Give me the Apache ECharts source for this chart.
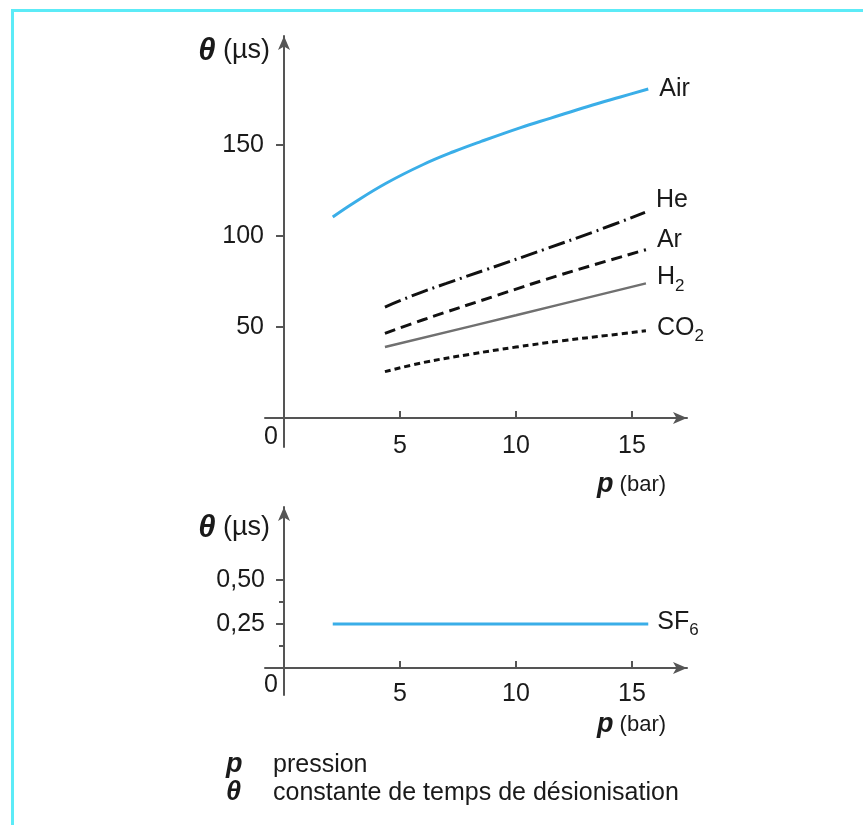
<!DOCTYPE html>
<html><head><meta charset="utf-8">
<script src="https://cdn.jsdelivr.net/npm/echarts@6/dist/echarts.min.js"></script>
<style>
html,body{margin:0;padding:0;background:#fff;}
#c{width:863px;height:825px;}
#frame{position:absolute;left:11px;top:9px;width:900px;height:900px;border-left:3px solid #5cebf7;border-top:3px solid #5cebf7;pointer-events:none;}
</style>
</head><body><div id="c"></div><div id="frame"></div>
<script>
// ---- data ----
const xTicks = [0, 5, 10, 15];
const yTicksTop = [50, 100, 150];
const yTicksBottom = [0.25, 0.5];
const yMinorBottom = [0.125, 0.375];

const airData = [[2.1,110.5],[3,118.2],[4.4,129],[6,139.3],[7.3,146.3],[8.5,152],[10.2,159.6],[11.5,164.8],[13.1,171.2],[14.5,176.4],[15.7,180.8]];
const heData  = [[4.35,61],[5,64.5],[6,69.5],[7,74],[8.7,81.5],[11.3,93],[13.5,103],[15.56,113]];
const arData  = [[4.35,46.5],[6,54],[9.2,67.5],[12,79],[15.6,92.5]];
const h2Data  = [[4.35,39],[10,56.5],[15.6,74]];
const co2Data = [[4.35,25.5],[6,30.5],[8,35],[10,39],[12,42.5],[14,45.5],[15.6,48]];
const sf6Data = [[2.1,0.25],[15.7,0.25]];

const seriesNames = ['Air','He','Ar','H2','CO2'];
const seriesLabels = ['Air','He','Ar','H{sub|2}','CO{sub|2}'];
const sf6Label = 'SF{sub|6}';

const FONT = "'Liberation Sans', Arial, Helvetica, sans-serif";
const TXT = '#1a1a1a';
const AX = '#555';

const labelDy = [0, -12, -10, -6, -3];

function lastPt(d){ return d[d.length-1]; }

const topSets = [airData, heData, arData, h2Data, co2Data];
const labelRich = { sub: { fontSize: 17, padding: [17,0,0,0], color: TXT, fontFamily: FONT } };

function axisCommon(){
  return {
    axisLine: { onZero: true, lineStyle: { color: AX, width: 2 }, symbol: ['none','arrow'], symbolSize: [9,14] },
    splitLine: { show: false }
  };
}

const xLabelCfg = {
  customValues: xTicks,
  margin: -22,
  color: TXT, fontSize: 25, fontFamily: FONT,
  formatter: v => v === 0 ? '{z|0}' : '{n|' + v + '}',
  rich: {
    z: { fontSize: 25, fontFamily: FONT, color: TXT, padding: [0, 26, 0, 0] },
    n: { fontSize: 25, fontFamily: FONT, color: TXT, padding: [9, 0, 0, 0] }
  }
};

const xName = {
  name: '{p|p} (bar)',
  nameLocation: 'end',
  nameGap: -90,
  nameTextStyle: {
    align: 'left', verticalAlign: 'top', color: TXT, fontSize: 22, fontFamily: FONT,
    rich: { p: { fontSize: 27, fontStyle: 'italic', fontWeight: 'bold', color: TXT, fontFamily: FONT } }
  }
};

const yName = {
  name: '{t|θ} (µs)',
  nameLocation: 'end',
  nameTextStyle: {
    align: 'right', verticalAlign: 'middle', color: TXT, fontSize: 27, fontFamily: FONT,
    padding: [0, 14, 0, 0],
    rich: { t: { fontSize: 31, fontStyle: 'italic', fontWeight: 'bold', color: TXT, fontFamily: FONT } }
  }
};

const option = {
  animation: false,
  backgroundColor: '#fff',
  title: {
    left: 221, top: 746,
    text: '{s|p}{t|pression}\n{s|θ}{t|constante de temps de désionisation}',
    textStyle: {
      fontWeight: 'normal',
      rich: {
        s: { fontSize: 27, fontStyle: 'italic', fontWeight: 'bold', width: 47, lineHeight: 28, color: TXT, fontFamily: FONT },
        t: { fontSize: 25, fontWeight: 'normal', lineHeight: 28, color: TXT, fontFamily: FONT }
      }
    }
  },
  grid: [
    { left: 265, right: 176, top: 36, bottom: 378 },
    { left: 265, right: 176, top: 507, bottom: 130 }
  ],
  xAxis: [
    Object.assign(axisCommon(), xName, {
      type: 'value', gridIndex: 0, min: -0.82, max: 17.37,
      nameTextStyle: Object.assign({}, xName.nameTextStyle, { padding: [53, 0, 0, 0] }),
      axisTick: { customValues: xTicks.filter(v => v > 0), inside: true, length: 7, lineStyle: { color: AX, width: 2 } },
      axisLabel: xLabelCfg
    }),
    Object.assign(axisCommon(), xName, {
      type: 'value', gridIndex: 1, min: -0.82, max: 17.37,
      nameTextStyle: Object.assign({}, xName.nameTextStyle, { padding: [43, 0, 0, 0] }),
      axisTick: { customValues: xTicks.filter(v => v > 0), inside: true, length: 7, lineStyle: { color: AX, width: 2 } },
      axisLabel: xLabelCfg
    })
  ],
  yAxis: [
    Object.assign(axisCommon(), yName, {
      type: 'value', gridIndex: 0, min: -15.9, max: 209.9, nameGap: -15,
      axisTick: { customValues: yTicksTop, length: 8, lineStyle: { color: AX, width: 2 } },
      axisLabel: { customValues: yTicksTop, margin: 1, color: TXT, fontSize: 25, fontFamily: FONT }
    }),
    Object.assign(axisCommon(), yName, {
      type: 'value', gridIndex: 1, min: -0.153, max: 0.915, nameGap: -21,
      axisTick: { customValues: yTicksBottom, length: 8, lineStyle: { color: AX, width: 2 } },
      axisLabel: { customValues: yTicksBottom, margin: 0, color: TXT, fontSize: 25, fontFamily: FONT,
        formatter: v => v.toFixed(2).replace('.', ',') }
    }),
    {
      type: 'value', gridIndex: 1, min: -0.153, max: 0.915, position: 'left', offset: -19,
      axisLine: { show: false, onZero: false },
      splitLine: { show: false },
      axisLabel: { show: false },
      axisTick: { customValues: yMinorBottom, length: 5, lineStyle: { color: AX, width: 2 } }
    }
  ],
  series: [
    { name: 'Air', type: 'line', xAxisIndex: 0, yAxisIndex: 0, data: airData, smooth: 0.4, showSymbol: false,
      lineStyle: { color: '#3aaee8', width: 3 } },
    { name: 'He', type: 'line', xAxisIndex: 0, yAxisIndex: 0, data: heData, smooth: 0.4, showSymbol: false,
      lineStyle: { color: '#111', width: 3, type: [17, 5, 2, 5] } },
    { name: 'Ar', type: 'line', xAxisIndex: 0, yAxisIndex: 0, data: arData, smooth: 0.4, showSymbol: false,
      lineStyle: { color: '#111', width: 3, type: [11, 6] } },
    { name: 'H2', type: 'line', xAxisIndex: 0, yAxisIndex: 0, data: h2Data, smooth: 0.4, showSymbol: false,
      lineStyle: { color: '#707070', width: 2.5 } },
    { name: 'CO2', type: 'line', xAxisIndex: 0, yAxisIndex: 0, data: co2Data, smooth: 0.4, showSymbol: false,
      lineStyle: { color: '#111', width: 3, type: [6, 4] } },
    { name: 'SF6', type: 'line', xAxisIndex: 1, yAxisIndex: 1, data: sf6Data, showSymbol: false,
      lineStyle: { color: '#3aaee8', width: 3 } },
    { name: 'labelsTop', type: 'scatter', xAxisIndex: 0, yAxisIndex: 0, symbolSize: 0, silent: true,
      itemStyle: { opacity: 1 },
      data: topSets.map((d, i) => ({ name: seriesLabels[i], value: lastPt(d), label: { offset: [0, labelDy[i]] } })),
      label: { show: true, position: 'right', distance: 11, color: TXT, opacity: 1, fontSize: 25, fontFamily: FONT,
        formatter: p => p.name, rich: labelRich } },
    { name: 'labelsBottom', type: 'scatter', xAxisIndex: 1, yAxisIndex: 1, symbolSize: 0, silent: true,
      itemStyle: { opacity: 1 },
      data: [{ name: sf6Label, value: lastPt(sf6Data), label: { offset: [0, -2] } }],
      label: { show: true, position: 'right', distance: 9, color: TXT, opacity: 1, fontSize: 25, fontFamily: FONT,
        formatter: p => p.name, rich: labelRich } }
  ]
};

const chart = echarts.init(document.getElementById('c'), null, { renderer: 'canvas' });
chart.setOption(option);
</script>
</body></html>
